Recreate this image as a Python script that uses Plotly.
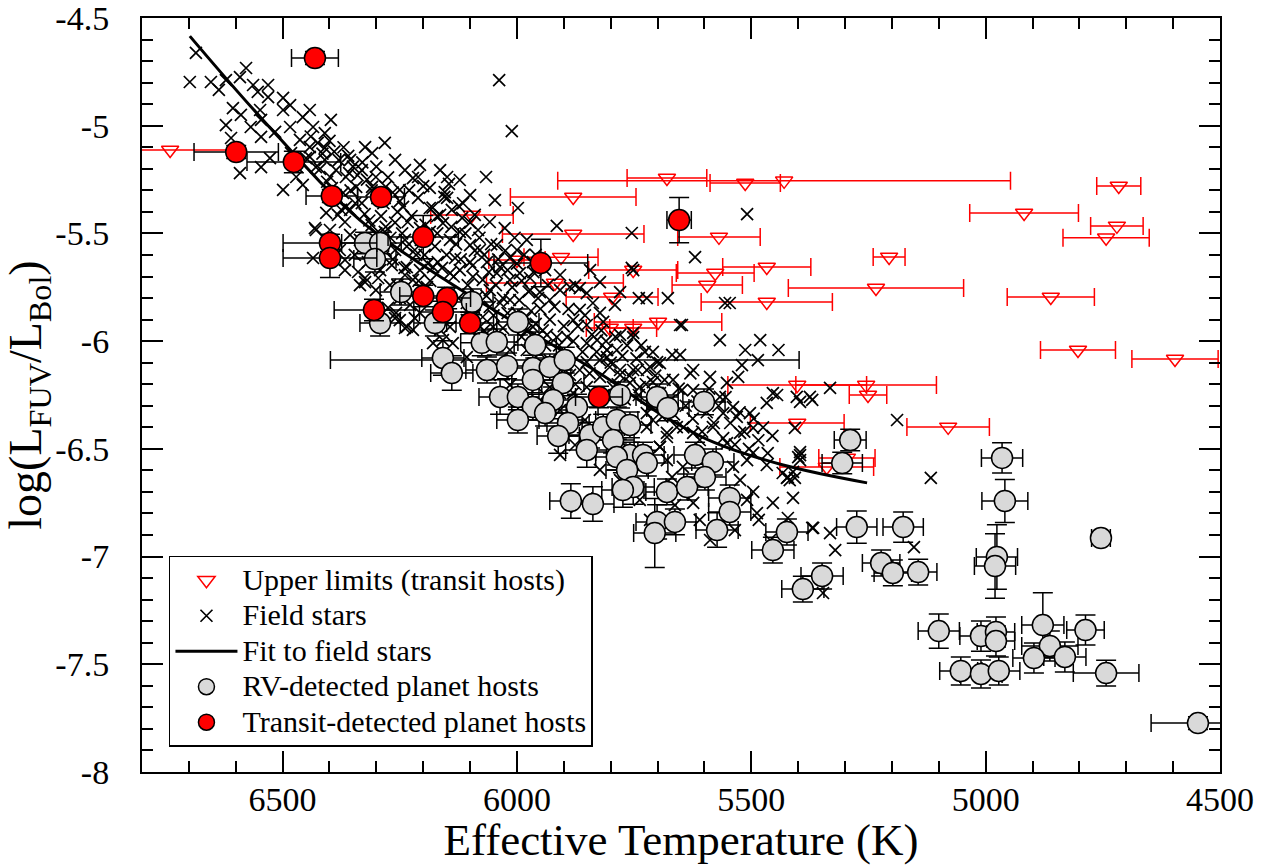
import plotly.graph_objects as go

# ---------------- data ----------------
# Upper limits (transit hosts): Teff, log(LFUV/LBol), Teff error
ul_teff = [6740, 6096, 5880, 5880, 6000, 5906, 5752, 5919, 5797, 5802,
           5752, 5699, 5680, 5513, 5430, 4716, 4918, 4720, 4743, 5569,
           5206, 5467, 5577, 5594, 5467, 5234, 4861, 4803, 4596, 5402,
           5255, 5251, 5402, 5080, 5339, 5296]
ul_lfuv = [-5.113, -5.414, -5.331, -5.503, -5.623, -5.610, -5.670, -5.730, -5.795, -5.939,
           -5.939, -5.911, -5.243, -5.266, -5.256, -5.280, -5.405, -5.465, -5.520, -5.516,
           -5.609, -5.656, -5.684, -5.739, -5.818, -5.753, -5.795, -6.041, -6.083, -6.204,
           -6.204, -6.250, -6.380, -6.398, -6.584, -6.542]
ul_teff_err = [140, 88, 134, 151, 60, 79, 95, 146, 98, 50,
               50, 136, 85, 75, 483, 47, 116, 56, 92, 88,
               34, 94, 83, 75, 140, 187, 93, 80, 92, 148,
               150, 40, 100, 88, 100, 60]

# Field stars
field_teff = [
    6685, 6698, 6653, 6636, 6621, 6591, 6578, 6563, 6531, 6553,
    6606, 6589, 6621, 6610, 6568, 6548, 6546, 6531, 6499, 6484,
    6499, 6442, 6457, 6397, 6484, 6435, 6410, 6516, 6546, 6463,
    6442, 6410, 6309, 6482, 6442, 6546, 6527, 6591, 6499, 6471,
    6457, 6429, 6410, 6386, 6365, 6343, 6371, 6399, 6358, 6331,
    6301, 6309, 6280, 6331, 6365, 6243, 6407,
    6222, 6211, 6149, 6066, 6149, 6124, 6211, 6250, 5998, 5915,
    6083, 6100, 6158, 6043, 6000, 6064, 6036, 5755, 5755, 6038, 6011,
    6235, 6207, 6179, 6143, 6122, 6094, 6073, 6043, 6015, 5994,
    5972, 5951, 5930, 5908, 5887, 5866, 5851, 5838, 5823, 5866,
    5880, 5851, 5816, 5787, 5752, 5723, 5752, 5808, 5829, 5915,
    5893, 5936, 5966, 5979, 6000, 6015, 6036, 6058, 6073, 6051,
    6036, 6015, 5979, 5951, 5930, 5908, 5887, 5866, 5851, 5823,
    5802, 5780, 5752, 5723, 5695, 5710, 5738, 5759, 5795, 5823,
    5851, 5880, 5908, 5930, 5851, 5808, 6179, 6158, 6137, 6107,
    6085, 6079, 6107, 6143, 6164, 6235, 6222, 6250, 6207, 6222,
    6192, 6143, 6107, 6085, 6058, 5723, 5695, 5680, 5680, 5695,
    5710, 5723, 5752, 5680,
    5546, 5648, 5780, 5752, 5808, 5727, 5669, 5652, 5701, 5520,
    5486, 5780, 5742, 5716, 5667, 5648, 5624, 5603, 5567, 5539,
    5560, 5531, 5503, 5467, 5445, 5403, 5375, 5332, 5496, 5524,
    5552, 5582, 5610, 5624, 5659, 5680, 5695, 5496, 5467, 5433,
    5418, 5411, 5396, 5454, 5509, 5539, 5524, 5496, 5509, 5488,
    5454, 5368, 5332, 5321, 5624, 5646, 5669, 5411, 5400, 5422,
    5624, 5588, 5552, 5528,
    5396, 5370, 5189, 5407, 5396, 5396, 5424, 5407, 5422, 5370,
    5347, 5153, 5117,
    5509, 5678, 5556, 5652,
    6431, 6399, 6367, 6356, 6335, 6378, 6346, 6318, 6292, 6267,
    6239, 6260, 6239, 6218, 6197, 6282, 6310, 6339, 6324, 6301,
    6271, 6250, 6228, 6275, 6218, 6260, 6335, 6367, 6435, 6429,
    6367, 6324, 6296, 6258, 6239,
    6186, 6164, 6139, 6117, 6090, 6058, 6026, 6186, 6143, 6122,
    6079, 6169, 6132, 6100, 6015, 5979, 5966, 5940, 5972, 5934,
    5908, 5876, 5844, 5823, 5780, 5791, 6186, 6154, 6100, 6047,
    6233, 6207, 6356, 6382, 6207, 6260, 6239, 6164, 6122, 6356,
    6324, 6282,
    5940, 6015, 6058, 5908, 5855, 5812, 5876, 5908, 5823, 5780,
    5738, 5716, 5663, 5610, 5588, 5535, 5484, 5460,
    5567, 5513, 5481, 5442, 5620, 5740,
    # dense core, 6450-6250
    6440, 6425, 6415, 6400, 6390, 6380, 6370, 6360, 6350, 6340,
    6330, 6320, 6310, 6300, 6295, 6285, 6275, 6265, 6255, 6420,
    6405, 6395, 6385, 6375, 6355, 6345, 6325, 6315, 6450, 6470,
    # dense core, 6300-6090
    6290, 6280, 6270, 6260, 6250, 6245, 6235, 6225, 6215, 6205,
    6195, 6190, 6180, 6175, 6170, 6160, 6155, 6150, 6140, 6135,
    6130, 6120, 6115, 6110, 6105, 6100, 6095, 6090, 6280, 6265,
    6300, 6240, 6230, 6200, 6185, 6125, 6170, 6210, 6255, 6145,
    # dense core, 6090-5950
    6080, 6070, 6060, 6055, 6045, 6040, 6030, 6025, 6020, 6010,
    6005, 6000, 5995, 5990, 5985, 5975, 5970, 5965, 5960, 5955,
    6090, 6070, 6050, 6030, 6020, 5990, 5980, 5960, 5950, 6065,
    # dense core, 5950-5700
    5945, 5940, 5930, 5925, 5920, 5910, 5900, 5895, 5890, 5880,
    5875, 5870, 5860, 5855, 5845, 5840, 5830, 5820, 5815, 5810,
    5800, 5790, 5785, 5775, 5770, 5765, 5760, 5745, 5740, 5735,
    5725, 5715, 5710, 5705, 5700,
    # 5700-5450
    5690, 5685, 5675, 5665, 5655, 5645, 5640, 5630, 5625, 5615,
    5605, 5595, 5590, 5580, 5570, 5560, 5555, 5545, 5535, 5525,
    5515, 5505, 5495, 5485, 5475, 5465, 5455,
]
field_lfuv = [
    -4.662, -4.797, -4.797, -4.834, -4.788, -4.774, -4.732, -4.811, -4.811, -4.843,
    -4.918, -4.950, -4.997, -5.057, -5.006, -4.927, -4.973, -4.867, -4.871, -4.904,
    -4.927, -4.927, -4.960, -4.973, -5.006, -5.006, -5.034, -5.029, -5.052, -5.066,
    -5.099, -5.103, -5.127, -5.127, -5.145, -5.192, -5.150, -5.220, -5.298, -5.238,
    -5.275, -5.192, -5.159, -5.206, -5.238, -5.284, -5.312, -5.238, -5.220, -5.206,
    -5.238, -5.284, -5.284, -5.359, -5.377, -5.377, -5.405,
    -5.243, -5.238, -5.238, -5.238, -5.335, -5.373, -5.335, -5.298, -5.382, -5.465,
    -5.484, -5.554, -5.452, -5.554, -5.577, -5.633, -5.656, -5.498, -5.660, -4.788, -5.025,
    -5.656, -5.670, -5.656, -5.684, -5.670, -5.702, -5.716, -5.684, -5.716, -5.684,
    -5.763, -5.772, -5.809, -5.763, -5.749, -5.754, -5.777, -5.823, -5.869, -5.855,
    -5.902, -5.925, -5.911, -6.041, -5.981, -5.800, -5.670, -6.041, -5.995, -5.981,
    -5.981, -5.971, -5.934, -5.888, -5.869, -5.809, -5.823, -5.841, -5.888, -5.934,
    -5.995, -6.041, -6.041, -6.055, -6.088, -6.134, -6.157, -6.134, -6.097, -6.088,
    -6.120, -6.157, -6.134, -6.134, -6.102, -6.190, -6.213, -6.194, -6.213, -6.166,
    -6.213, -6.241, -6.241, -6.213, -6.009, -6.074, -6.009, -5.995, -6.009, -6.074,
    -5.981, -5.934, -5.902, -5.934, -5.948, -5.934, -5.948, -5.902, -5.869, -5.716,
    -5.749, -5.777, -5.823, -5.795, -5.763, -6.334, -6.241, -6.306, -6.426, -6.491,
    -6.366, -6.399, -6.519, -6.552,
    -5.823, -5.925, -5.971, -5.962, -6.041, -6.050, -6.064, -6.064, -6.097, -6.111,
    -6.088, -6.134, -6.134, -6.120, -6.180, -6.227, -6.227, -6.273, -6.259, -6.306,
    -6.334, -6.352, -6.334, -6.287, -6.250, -6.259, -6.259, -6.217, -6.403, -6.426,
    -6.473, -6.399, -6.459, -6.426, -6.399, -6.445, -6.491, -6.519, -6.575, -6.612,
    -6.645, -6.728, -6.529, -6.241, -6.552, -6.584, -6.645, -6.700, -6.737, -6.798,
    -6.751, -6.867, -6.891, -6.970, -6.751, -6.584, -6.631, -6.607, -6.538, -6.631,
    -6.134, -6.166, -6.194, -6.166,
    -6.282, -6.273, -6.366, -6.403, -6.515, -6.552, -6.635, -6.635, -6.821, -6.867,
    -7.169, -6.956, -6.635,
    -5.410, -5.800, -5.823, -5.925,
    -5.475, -5.484, -5.447, -5.507, -5.530, -5.577, -5.600, -5.633, -5.670, -5.647,
    -5.693, -5.577, -5.530, -5.577, -5.600, -5.493, -5.461, -5.679, -5.726, -5.763,
    -5.740, -5.800, -5.832, -5.846, -5.893, -5.893, -5.740, -5.670, -5.614, -5.484,
    -5.623, -5.707, -5.707, -5.869, -5.939,
    -5.382, -5.414, -5.391, -5.428, -5.414, -5.447, -5.475, -5.493, -5.530, -5.493,
    -5.577, -5.633, -5.614, -5.633, -5.614, -5.530, -5.633, -5.670, -5.707, -5.740,
    -5.693, -5.740, -5.670, -5.726, -5.772, -5.832, -5.289, -5.308, -5.322, -5.345,
    -5.447, -5.475, -5.391, -5.414, -5.182, -5.159, -5.206, -5.206, -5.252, -5.159,
    -5.099, -5.080,
    -6.250, -6.204, -6.157, -6.320, -6.366, -6.412, -6.482, -6.528, -6.598, -6.645,
    -6.737, -6.830, -6.761, -6.830, -6.923, -6.877, -6.830, -6.923,
    -5.995, -6.041, -5.995, -6.041, -5.610, -5.800,
    # dense core, 6450-6250
    -5.05, -5.08, -5.13, -5.07, -5.12, -5.16, -5.10, -5.14, -5.19, -5.23,
    -5.17, -5.25, -5.30, -5.19, -5.33, -5.36, -5.24, -5.31, -5.40, -5.20,
    -5.26, -5.29, -5.33, -5.39, -5.30, -5.36, -5.41, -5.44, -5.15, -5.19,
    # dense core, 6300-6090
    -5.42, -5.47, -5.52, -5.45, -5.35, -5.50, -5.56, -5.42, -5.60, -5.53,
    -5.46, -5.64, -5.38, -5.56, -5.50, -5.66, -5.33, -5.60, -5.47, -5.70,
    -5.55, -5.62, -5.36, -5.50, -5.74, -5.45, -5.65, -5.58, -5.58, -5.62,
    -5.50, -5.66, -5.30, -5.28, -5.72, -5.80, -5.42, -5.72, -5.74, -5.27,
    # dense core, 6090-5950
    -5.52, -5.60, -5.68, -5.55, -5.74, -5.62, -5.80, -5.58, -5.67, -5.75,
    -5.52, -5.64, -5.81, -5.72, -5.60, -5.77, -5.86, -5.68, -5.92, -5.80,
    -5.88, -5.95, -5.88, -5.94, -5.87, -5.98, -5.95, -5.60, -5.85, -5.79,
    # dense core, 5950-5700
    -5.95, -6.02, -5.90, -6.12, -5.84, -6.02, -5.93, -6.08, -5.85, -6.00,
    -6.20, -5.93, -6.05, -5.88, -6.15, -5.97, -6.05, -5.95, -6.25, -6.00,
    -6.10, -5.98, -6.20, -6.07, -6.27, -6.02, -6.16, -6.08, -6.25, -6.02,
    -6.20, -6.30, -6.05, -6.16, -6.24,
    # 5700-5450
    -6.35, -6.18, -6.28, -6.34, -6.22, -6.40, -6.30, -6.15, -6.36, -6.28,
    -6.42, -6.33, -6.22, -6.38, -6.30, -6.45, -6.26, -6.38, -6.48, -6.33,
    -6.42, -6.50, -6.36, -6.46, -6.40, -6.52, -6.44,
]

# Fit to field stars
fit_teff = [6698, 6542, 6335, 6150, 6000, 5823, 5700, 5582, 5432, 5253]
fit_lfuv = [-4.584, -4.973, -5.438, -5.720, -5.920, -6.150, -6.330, -6.468, -6.575, -6.658]

# RV-detected planet hosts
rv_teff = [6324, 6292, 6303, 6247, 6292, 6175, 6158, 6139, 6096, 6075,
           6043, 6064, 6021, 5998, 5961, 5966, 5930, 5898, 5966, 5902,
           6036, 5998, 5923, 5872, 5966, 5940, 5998, 5891, 5912, 5844,
           5816, 5787, 5759, 5780, 5701, 5851, 5787, 5759, 5731, 5678,
           5601, 5795, 5723, 5787, 5765, 5752, 5774, 5680, 5637, 5620,
           5582, 5599, 5546, 5546, 5573, 5701, 5663, 5706, 5454, 5424,
           5289, 5306, 5885, 5838, 5275, 5176, 5349, 5390, 5223, 5198,
           5144, 4965, 4959, 4754, 4976, 4980, 5100, 5010, 4978, 4978,
           4878, 4787, 4863, 4897, 4831, 5053, 5010, 4972, 4743, 4547]
rv_lfuv = [-5.544, -5.544, -5.619, -5.772, -5.916, -5.916, -6.078, -6.148, -5.818, -6.008,
           -6.004, -6.134, -6.115, -5.911, -6.018, -6.125, -6.120, -6.088, -6.180, -6.194,
           -6.259, -6.259, -6.273, -6.306, -6.306, -6.334, -6.366, -6.380, -6.440, -6.436,
           -6.399, -6.366, -6.389, -6.250, -6.259, -6.505, -6.515, -6.529, -6.529, -6.310,
           -6.282, -6.459, -6.566, -6.538, -6.598, -6.677, -6.691, -6.700, -6.677, -6.529,
           -6.561, -6.631, -6.728, -6.793, -6.877, -6.839, -6.839, -6.891, -6.970, -6.886,
           -6.459, -6.566, -6.742, -6.756, -6.863, -6.863, -7.090, -7.151, -7.030, -7.076,
           -7.072, -6.542, -6.742, -6.914, -7.002, -7.044, -7.346, -7.369, -7.350, -7.392,
           -7.318, -7.341, -7.415, -7.471, -7.466, -7.531, -7.545, -7.531, -7.541, -7.773]
rv_teff_err = [50, 45, 45, 45, 43, 45, 45, 45, 45, 45,
               45, 45, 45, 45, 45, 45, 45, 500, 45, 45,
               45, 45, 45, 45, 45, 45, 45, 45, 45, 45,
               45, 45, 45, 45, 45, 45, 45, 45, 45, 45,
               45, 45, 45, 45, 45, 45, 45, 45, 45, 45,
               45, 45, 45, 45, 45, 45, 45, 45, 45, 45,
               34, 43, 45, 45, 43, 43, 45, 45, 40, 40,
               40, 44, 49, 20, 44, 44, 44, 45, 40, 40,
               45, 40, 60, 45, 45, 45, 45, 45, 70, 100]
rv_lfuv_err = [0.05, 0.05, 0.06, 0.06, 0.06, 0.06, 0.08, 0.08, 0.06, 0.06,
               0.06, 0.06, 0.06, 0.06, 0.06, 0.06, 0.06, 0.06, 0.06, 0.06,
               0.08, 0.06, 0.06, 0.06, 0.06, 0.06, 0.06, 0.06, 0.08, 0.06,
               0.06, 0.06, 0.06, 0.06, 0.06, 0.08, 0.06, 0.06, 0.06, 0.06,
               0.06, 0.06, 0.06, 0.06, 0.06, 0.08, 0.08, 0.06, 0.06, 0.06,
               0.06, 0.06, 0.06, 0.06, 0.08, 0.08, 0.06, 0.16, 0.06, 0.06,
               0.05, 0.05, 0.08, 0.08, 0.075, 0.07, 0.06, 0.06, 0.06, 0.06,
               0.06, 0.07, 0.10, 0.02, 0.15, 0.15, 0.08, 0.07, 0.07, 0.07,
               0.15, 0.07, 0.07, 0.07, 0.07, 0.065, 0.065, 0.065, 0.06, 0.03]

# Transit-detected planet hosts
tr_teff = [6431, 6599, 6476, 6395, 6290, 6200, 6399, 6399, 5949, 5654,
           6305, 6200, 6149, 6158, 6100, 5825]
tr_lfuv = [-4.686, -5.122, -5.168, -5.326, -5.331, -5.517, -5.544, -5.614, -5.637, -5.438,
           -5.855, -5.790, -5.800, -5.865, -5.916, -6.259]
tr_teff_err = [50, 90, 100, 55, 50, 75, 100, 100, 100, 26,
               85, 50, 50, 50, 50, 50]
tr_lfuv_err = [0.03, 0.03, 0.05, 0.03, 0.03, 0.10, 0.04, 0.09, 0.11, 0.105,
               0.05, 0.05, 0.05, 0.05, 0.05, 0.05]

x_tick_vals = [6500, 6000, 5500, 5000, 4500]
x_tick_text = ["6500", "6000", "5500", "5000", "4500"]
y_tick_vals = [-8, -7.5, -7, -6.5, -6, -5.5, -5, -4.5]
y_tick_text = ["-8", "-7.5", "-7", "-6.5", "-6", "-5.5", "-5", "-4.5"]

legend_names = ["Upper limits (transit hosts)", "Field stars", "Fit to field stars",
                "RV-detected planet hosts", "Transit-detected planet hosts"]

# ---------------- figure ----------------
FONT = "Liberation Serif, Times New Roman, serif"


def lg(name):
    # legend entry text drawn a little larger than the row spacing font
    return '<span style="font-size:30px">' + name + '</span>'


fig = go.Figure()

fig.add_trace(go.Scatter(
    x=ul_teff, y=ul_lfuv, mode="markers", name=lg(legend_names[0]),
    marker=dict(symbol="triangle-down-open", size=15, color="#ff0000",
                line=dict(width=1.5, color="#ff0000")),
    error_x=dict(type="data", array=ul_teff_err, color="#ff0000", thickness=1.5, width=9),
))

fig.add_trace(go.Scatter(
    x=field_teff, y=field_lfuv, mode="markers", name=lg(legend_names[1]),
    marker=dict(symbol="x-thin", size=12, color="black",
                line=dict(width=1.7, color="black")),
))

fig.add_trace(go.Scatter(
    x=fit_teff, y=fit_lfuv, mode="lines", name=lg(legend_names[2]),
    line=dict(color="black", width=3, shape="spline"),
))

fig.add_trace(go.Scatter(
    x=rv_teff, y=rv_lfuv, mode="markers", name=lg(legend_names[3]),
    marker=dict(symbol="circle", size=21, color="#d9d9d9",
                line=dict(width=1.5, color="black")),
    error_x=dict(type="data", array=rv_teff_err, color="black", thickness=1.5, width=9),
    error_y=dict(type="data", array=rv_lfuv_err, color="black", thickness=1.5, width=10),
))

fig.add_trace(go.Scatter(
    x=tr_teff, y=tr_lfuv, mode="markers", name=lg(legend_names[4]),
    marker=dict(symbol="circle", size=21, color="#ff0000",
                line=dict(width=1.5, color="black")),
    error_x=dict(type="data", array=tr_teff_err, color="black", thickness=1.5, width=9),
    error_y=dict(type="data", array=tr_lfuv_err, color="black", thickness=1.5, width=10),
))

x_minor = [v for v in range(4600, 6800, 100) if v % 500 != 0]
y_minor = [round(-7.9 + 0.1 * i, 1) for i in range(34)]
y_minor = [v for v in y_minor if abs(v * 2 - round(v * 2)) > 1e-6]

fig.update_layout(
    width=1273, height=865,
    margin=dict(l=142, r=53, t=18, b=93, autoexpand=False),
    paper_bgcolor="white", plot_bgcolor="white",
    font=dict(family=FONT, color="black"),
    showlegend=True,
    legend=dict(
        x=0.025, y=0.2865, xanchor="left", yanchor="top",
        bgcolor="white", bordercolor="black", borderwidth=1.5,
        font=dict(family=FONT, size=25, color="black"),
        tracegroupgap=0, itemwidth=62,
    ),
    xaxis=dict(
        range=[6800, 4500], tickmode="array", tickvals=x_tick_vals, ticktext=x_tick_text,
        ticks="inside", ticklen=21, tickwidth=1.5, tickcolor="black",
        minor=dict(tickmode="array", tickvals=x_minor, ticks="inside", ticklen=11,
                   tickwidth=1.5, tickcolor="black", showgrid=False),
        showline=True, linewidth=2, linecolor="black", mirror="allticks",
        showgrid=False, zeroline=False, automargin=False,
        tickfont=dict(family=FONT, size=34),
        ticklabelstandoff=-4, ticklabeloverflow="allow",
        title=dict(text="Effective Temperature (K)", font=dict(family=FONT, size=45), standoff=0),
    ),
    yaxis=dict(
        range=[-8, -4.5], tickmode="array", tickvals=y_tick_vals, ticktext=y_tick_text,
        ticks="inside", ticklen=21, tickwidth=1.5, tickcolor="black",
        minor=dict(tickmode="array", tickvals=y_minor, ticks="inside", ticklen=11,
                   tickwidth=1.5, tickcolor="black", showgrid=False),
        showline=True, linewidth=2, linecolor="black", mirror="allticks",
        showgrid=False, zeroline=False, automargin=False,
        tickfont=dict(family=FONT, size=34),
        ticklabelstandoff=24, ticklabeloverflow="allow",
        title=dict(text="log(L<sub>FUV</sub>/L<sub>Bol</sub>)", font=dict(family=FONT, size=46), standoff=0),
    ),
)

fig.write_html("out.html")
